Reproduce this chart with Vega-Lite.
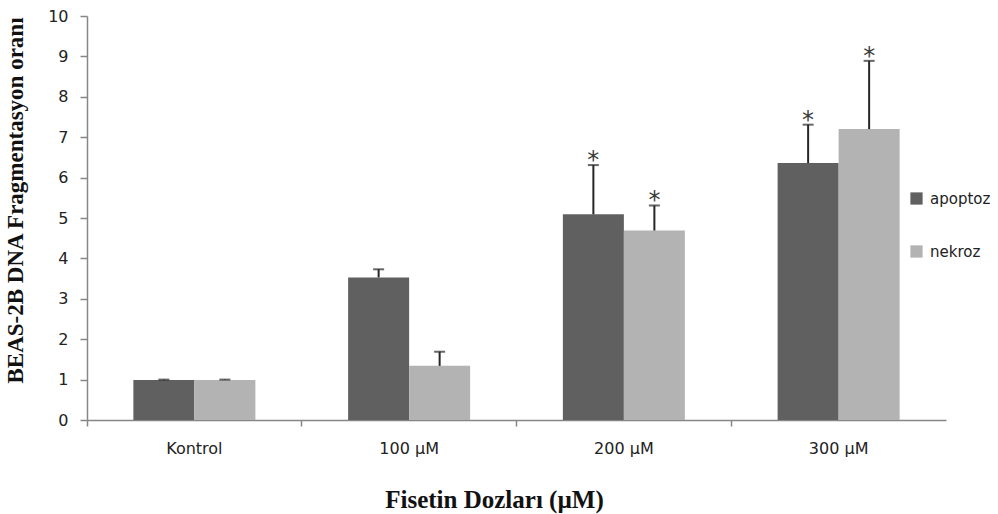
{
  "$schema": "https://vega.github.io/schema/vega-lite/v6.json",
  "width": 859,
  "height": 404,
  "autosize": {"type": "none"},
  "padding": {"left": 87, "top": 16, "right": 52, "bottom": 94},
  "background": "white",
  "config": {"view": {"stroke": null}},
  "data": {
    "values": [
      {"doz": "Kontrol", "grup": "apoptoz", "deger": 0.99, "ust": 1.0, "yildiz": false},
      {"doz": "Kontrol", "grup": "nekroz", "deger": 0.99, "ust": 1.0, "yildiz": false},
      {"doz": "100 µM", "grup": "apoptoz", "deger": 3.53, "ust": 3.73, "yildiz": false},
      {"doz": "100 µM", "grup": "nekroz", "deger": 1.34, "ust": 1.69, "yildiz": false},
      {"doz": "200 µM", "grup": "apoptoz", "deger": 5.09, "ust": 6.31, "yildiz": true},
      {"doz": "200 µM", "grup": "nekroz", "deger": 4.69, "ust": 5.31, "yildiz": true},
      {"doz": "300 µM", "grup": "apoptoz", "deger": 6.36, "ust": 7.31, "yildiz": true},
      {"doz": "300 µM", "grup": "nekroz", "deger": 7.2, "ust": 8.89, "yildiz": true}
    ]
  },
  "encoding": {
    "x": {
      "field": "doz",
      "type": "nominal",
      "sort": ["Kontrol", "100 µM", "200 µM", "300 µM"],
      "scale": {"paddingInner": 0, "paddingOuter": 0},
      "axis": {
        "bandPosition": 0,
        "labelAngle": 0,
        "labelFont": "DejaVu Sans",
        "labelFontSize": 16,
        "labelColor": "#222222",
        "labelPadding": 14,
        "labelBound": false,
        "labelOverlap": false,
        "domainColor": "#868686",
        "domainWidth": 1.5,
        "tickColor": "#868686",
        "tickWidth": 1.5,
        "tickSize": 6,
        "title": "Fisetin Dozları (µM)",
        "titleFont": "Liberation Serif",
        "titleFontSize": 25,
        "titleFontWeight": "bold",
        "titleColor": "#111111",
        "titleX": 407,
        "titleY": 87,
        "titleAlign": "center",
        "titleBaseline": "alphabetic"
      }
    },
    "xOffset": {
      "field": "grup",
      "type": "nominal",
      "sort": ["apoptoz", "nekroz"],
      "scale": {"paddingInner": 0, "paddingOuter": 0.76}
    }
  },
  "layer": [
    {
      "mark": {"type": "bar"},
      "encoding": {
        "y": {
          "field": "deger",
          "type": "quantitative",
          "scale": {"domain": [0, 10], "nice": false},
          "axis": {
            "values": [0, 1, 2, 3, 4, 5, 6, 7, 8, 9, 10],
            "grid": false,
            "labelFont": "DejaVu Sans",
            "labelFontSize": 16,
            "labelColor": "#222222",
            "labelPadding": 12,
            "domainColor": "#868686",
            "domainWidth": 1.5,
            "tickColor": "#868686",
            "tickWidth": 1.5,
            "tickSize": 7,
            "title": "BEAS-2B DNA Fragmentasyon oranı",
            "titleFont": "Liberation Serif",
            "titleFontSize": 23,
            "titleFontWeight": "bold",
            "titleColor": "#111111",
            "titleX": -60,
            "titleY": 184,
            "titleAngle": -90,
            "titleAlign": "center",
            "titleBaseline": "bottom"
          }
        },
        "color": {
          "field": "grup",
          "type": "nominal",
          "scale": {"domain": ["apoptoz", "nekroz"], "range": ["#606060", "#b3b3b3"]},
          "legend": {
            "title": null,
            "orient": "none",
            "legendX": 822,
            "legendY": 175,
            "symbolType": "square",
            "symbolSize": 150,
            "symbolStrokeWidth": 0,
            "labelFont": "DejaVu Sans",
            "labelFontSize": 15,
            "labelColor": "#222222",
            "labelOffset": 6,
            "rowPadding": 37
          }
        }
      }
    },
    {
      "mark": {"type": "rule", "color": "#262626", "strokeWidth": 2},
      "encoding": {
        "y": {"field": "deger", "type": "quantitative"},
        "y2": {"field": "ust"}
      }
    },
    {
      "mark": {"type": "tick", "color": "#262626", "thickness": 2, "size": 11},
      "encoding": {
        "y": {"field": "ust", "type": "quantitative"}
      }
    },
    {
      "transform": [{"filter": "datum.yildiz"}],
      "mark": {"type": "text", "text": "*", "font": "DejaVu Sans", "fontSize": 24, "color": "#3a3a3a", "baseline": "alphabetic", "dy": 3},
      "encoding": {
        "y": {"field": "ust", "type": "quantitative"}
      }
    }
  ]
}
